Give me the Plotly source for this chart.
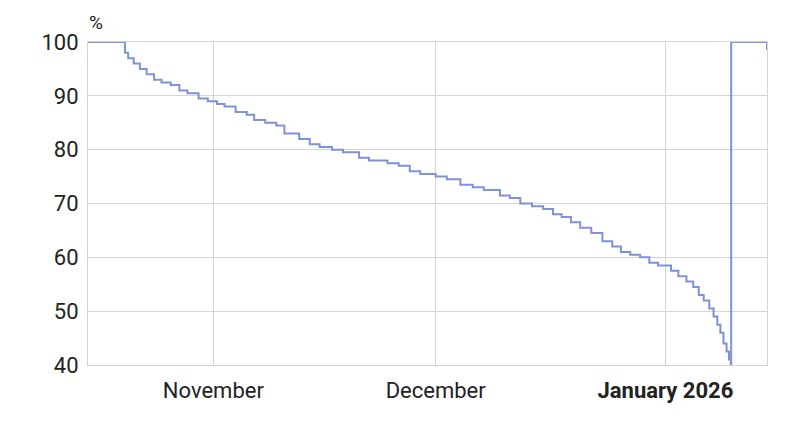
import plotly.graph_objects as go

# battery level readings
times = [
    "2025-10-15 00:00", "2025-10-20 00:00", "2025-10-20 02:00", "2025-10-20 12:00",
    "2025-10-21 06:00", "2025-10-22 02:00", "2025-10-23 00:00", "2025-10-24 00:00",
    "2025-10-25 00:00", "2025-10-26 06:00", "2025-10-27 10:00", "2025-10-28 12:00",
    "2025-10-30 00:00", "2025-10-31 06:00", "2025-11-01 12:00", "2025-11-02 12:00",
    "2025-11-04 00:00", "2025-11-05 12:00", "2025-11-06 12:00", "2025-11-08 00:00",
    "2025-11-09 12:00", "2025-11-10 14:00", "2025-11-12 14:00", "2025-11-14 00:00",
    "2025-11-15 08:00", "2025-11-17 00:00", "2025-11-18 12:00", "2025-11-20 16:00",
    "2025-11-22 00:00", "2025-11-24 12:00", "2025-11-26 00:00", "2025-11-27 12:00",
    "2025-11-28 22:00", "2025-12-01 00:00", "2025-12-02 12:00", "2025-12-04 08:00",
    "2025-12-06 00:00", "2025-12-07 12:00", "2025-12-09 16:00", "2025-12-11 00:00",
    "2025-12-12 10:00", "2025-12-14 00:00", "2025-12-15 12:00", "2025-12-16 20:00",
    "2025-12-18 00:00", "2025-12-19 06:00", "2025-12-20 12:00", "2025-12-22 00:00",
    "2025-12-23 12:00", "2025-12-24 20:00", "2025-12-26 00:00", "2025-12-27 06:00",
    "2025-12-28 14:00", "2025-12-29 20:00", "2025-12-31 00:00", "2026-01-01 18:00",
    "2026-01-02 18:00", "2026-01-03 20:00", "2026-01-04 18:00", "2026-01-05 12:00",
    "2026-01-06 04:00", "2026-01-06 22:00", "2026-01-07 12:00", "2026-01-08 00:00",
    "2026-01-08 10:00", "2026-01-08 20:00", "2026-01-09 06:00", "2026-01-09 14:00",
    "2026-01-09 20:00", "2026-01-09 21:00", "2026-01-14 08:00", "2026-01-14 17:00",
]
level = [
    100, 100, 98, 97, 96, 95, 94, 93, 92.5, 92, 91, 90.5, 89.5, 89, 88.5, 88,
    87, 86.5, 85.5, 85, 84.5, 83, 82, 81, 80.5, 80, 79.5, 78.5, 78, 77.5, 77,
    76, 75.5, 75, 74.5, 73.5, 73, 72.5, 71.5, 71, 70, 69.5, 69, 68, 67.5, 66.5,
    65.5, 64.5, 63, 62, 61, 60.5, 60, 59, 58.5, 57.5, 56.5, 55.5, 54.5, 53, 52,
    50.5, 49, 47.5, 46, 44, 42.5, 41, 40, 100, 100, 98.5,
]

fig = go.Figure(go.Scatter(
    x=times, y=level, mode="lines", line_shape="hv",
    line=dict(color="#7f92d8", width=2),
))

fig.update_layout(
    width=800, height=423,
    margin=dict(l=80, r=41, t=34, b=66),
    paper_bgcolor="white", plot_bgcolor="white",
    font=dict(family="Roboto", size=22, color="#222"),
    showlegend=False,
    annotations=[dict(text="%", x=0, y=1, xref="paper", yref="paper",
                      xanchor="center", yanchor="bottom", xshift=8, yshift=6,
                      showarrow=False, font=dict(size=19))],
)
fig.update_xaxes(
    range=["2025-10-15 02:00", "2026-01-14 17:00"],
    tickvals=["2025-11-01", "2025-12-01", "2026-01-01"],
    ticktext=["November", "December", "<b>January 2026</b>"],
    showgrid=True, gridcolor="#d4d4d4", showline=True, linecolor="#d4d4d4",
    mirror=True, ticks="", ticklabelstandoff=6,
)
fig.update_yaxes(
    range=[40, 100], tickvals=[40, 50, 60, 70, 80, 90, 100],
    showgrid=True, gridcolor="#d4d4d4", showline=True, linecolor="#d4d4d4",
    mirror=True, ticks="", zeroline=False, ticklabelstandoff=4,
)

fig.write_html("out.html")
